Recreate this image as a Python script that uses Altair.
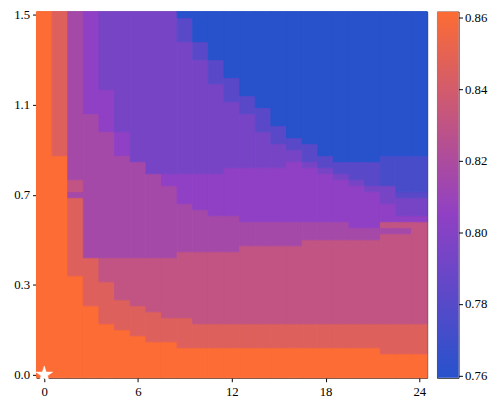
import altair as alt
import pandas as pd

# ---- grid description ----
N_COLS = 25          # x = 0 .. 24
N_ROWS = 61          # y = 0.000 .. 1.500 step 0.025
ROW_STEP = 0.025

# value of each colour level
LEVEL_VALUES = {
    "O": 0.8617, "R": 0.846, "P": 0.8305, "M": 0.816, "U": 0.805,
    "V": 0.7945, "BV": 0.7813, "BV2": 0.774, "B": 0.7594,
}

# lowest row index (per column) from which a level starts (rows above take it)
tR   = [61, 37, 17, 12, 9, 8, 7, 6, 6, 5, 5, 5, 5, 5, 5, 5, 5, 5, 5, 5, 5, 5, 4, 4, 4]
tP   = [61, 61, 31, 20, 16, 13, 12, 11, 10, 10, 9, 9, 9, 9, 9, 9, 9, 9, 9, 9, 9, 9, 9, 9, 9]
tM   = [61, 61, 33, 20, 20, 20, 20, 20, 20, 21, 21, 21, 21, 22, 22, 22, 22, 23, 23, 23, 23, 23, 24, 24, 26]
tU   = [61, 61, 61, 44, 41, 37, 36, 34, 32, 29, 28, 27, 27, 26, 26, 26, 26, 26, 26, 26, 25, 25, 26, 26, 26]
tV   = [61, 61, 61, 61, 48, 41, 36, 34, 34, 34, 34, 34, 35, 35, 35, 35, 36, 35, 34, 33, 32, 31, 29, 27, 27]
tBV  = [61, 61, 61, 61, 61, 61, 61, 61, 61, 56, 53, 49, 46, 44, 41, 39, 38, 36, 35, 34, 33, 32, 32, 30, 30]
tBV2 = [61, 61, 61, 61, 61, 61, 61, 61, 61, 60, 56, 53, 50, 47, 45, 42, 40, 39, 37, 36, 36, 36, 32, 31, 31]
tB   = [61, 61, 61, 61, 61, 61, 61, 61, 61, 60, 56, 53, 50, 47, 45, 42, 40, 39, 37, 36, 36, 36, 37, 37, 37]

# isolated cells that break the staircase: (column, row, level)
EXCEPTIONS = [(2, 30, "M"), (22, 25, "P"), (23, 25, "P")]

X_TICKS = [0, 6, 12, 18, 24]
Y_TICKS = [0.0, 0.375, 0.75, 1.125, 1.5]
CB_TICKS = [0.76, 0.78, 0.80, 0.82, 0.84, 0.86]
CB_MIN, CB_MID, CB_MAX = 0.7594, 0.805, 0.8617
CMAP = ["#2752cc", "#9040c4", "#fc6c34"]

STAR_X = [0]
STAR_Y = [0.0]

# ---- build the table: one rect per vertical run of equal level ----
order = [("R", tR), ("P", tP), ("M", tM), ("U", tU), ("V", tV),
         ("BV", tBV), ("BV2", tBV2), ("B", tB)]
exc = {(c, r): lv for c, r, lv in EXCEPTIONS}
recs = []
for c in range(N_COLS):
    col_levels = []
    for r in range(N_ROWS):
        lvl = "O"
        for name, arr in order:
            if r >= arr[c]:
                lvl = name
        col_levels.append(exc.get((c, r), lvl))
    start = 0
    for r in range(1, N_ROWS + 1):
        if r == N_ROWS or col_levels[r] != col_levels[start]:
            recs.append({"x0": c - 0.5, "x1": c + 0.5,
                         "y0": start * ROW_STEP - ROW_STEP / 2,
                         "y1": (r - 1) * ROW_STEP + ROW_STEP / 2,
                         "v": LEVEL_VALUES[col_levels[start]]})
            start = r
df = pd.DataFrame(recs)

FONT = "Liberation Serif"
FS = 13

color_scale = alt.Scale(domain=[CB_MIN, CB_MID, CB_MAX], range=CMAP, interpolate="rgb")

axis_common = dict(title=None, grid=False, domain=False, tickColor="black",
                   tickSize=4, tickWidth=1, labelFont=FONT, labelFontSize=FS,
                   labelColor="black")

heat = alt.Chart(df).mark_rect(strokeWidth=1).encode(
    x=alt.X("x0:Q", scale=alt.Scale(domain=[-0.5, N_COLS - 0.5], nice=False, zero=False),
            axis=alt.Axis(values=X_TICKS, format="d", labelPadding=4, **axis_common)),
    x2="x1:Q",
    y=alt.Y("y0:Q", scale=alt.Scale(domain=[-ROW_STEP / 2, (N_ROWS - 1) * ROW_STEP + ROW_STEP / 2],
                                    nice=False, zero=False),
            axis=alt.Axis(values=Y_TICKS, labelPadding=3,
                          labelExpr="format(floor(datum.value*10+0.0001)/10, '.1f')",
                          **axis_common)),
    y2="y1:Q",
    color=alt.Color("v:Q", scale=color_scale, legend=None),
    stroke=alt.Stroke("v:Q", scale=color_scale, legend=None),
)

STAR_PATH = ("M0,-1L0.2245,-0.309L0.9511,-0.309L0.3633,0.118L0.5878,0.809L0,0.382"
             "L-0.5878,0.809L-0.3633,0.118L-0.9511,-0.309L-0.2245,-0.309Z")
star = alt.Chart(pd.DataFrame({"sx": STAR_X, "sy": STAR_Y})).mark_point(
    shape=STAR_PATH, filled=True, fill="white", stroke="white", strokeWidth=0.5,
    size=324, opacity=1, clip=False
).encode(x="sx:Q", y="sy:Q")

main = alt.layer(heat, star).properties(width=398, height=373)

mid_off = (CB_MID - CB_MIN) / (CB_MAX - CB_MIN)
grad = alt.Gradient(gradient="linear",
                    stops=[alt.GradientStop(color=CMAP[0], offset=0),
                           alt.GradientStop(color=CMAP[1], offset=mid_off),
                           alt.GradientStop(color=CMAP[2], offset=1)],
                    x1=0, x2=0, y1=1, y2=0)
cb = alt.Chart(pd.DataFrame({"lo": [CB_MIN], "hi": [CB_MAX]})).mark_rect(fill=grad).encode(
    y=alt.Y("lo:Q", scale=alt.Scale(domain=[CB_MIN, CB_MAX], nice=False, zero=False),
            axis=alt.Axis(orient="right", values=CB_TICKS, format=".2f", labelPadding=2,
                          **axis_common)),
    y2="hi:Q",
    x=alt.value(0), x2=alt.value(22),
).properties(width=22, height=373)

chart = alt.hconcat(main, cb, spacing=8).properties(
    padding={"left": 5, "top": -4, "right": 2, "bottom": 2}
).configure_view(stroke="#222222", strokeWidth=1).configure_axis(
    labelFont=FONT, labelFontSize=FS
)

chart.save("out.html", embed_options={"renderer": "svg", "actions": False})
